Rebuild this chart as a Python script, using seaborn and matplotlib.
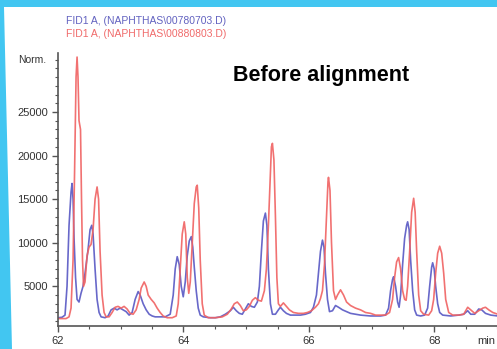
import matplotlib
matplotlib.use("Agg")
import numpy as np
import pandas as pd
import seaborn as sns
import matplotlib.pyplot as plt
from matplotlib.patches import Polygon
from matplotlib.ticker import MultipleLocator, FixedLocator

sns.set_theme(style="white")
plt.rcParams['font.family'] = ['Liberation Sans', 'DejaVu Sans']

# ---------------- data (retention time in min, normalised signal) ----------------
blue_time = [
    62.000, 62.064, 62.112, 62.144, 62.176, 62.208, 62.224, 62.240, 62.256, 62.280,
    62.304, 62.335, 62.367, 62.399, 62.431, 62.479, 62.511, 62.538, 62.559, 62.591,
    62.623, 62.655, 62.687, 62.751, 62.799, 62.847, 62.895, 62.942, 62.990, 63.038,
    63.086, 63.134, 63.182, 63.230, 63.278, 63.310, 63.358, 63.406, 63.454, 63.502,
    63.549, 63.629, 63.709, 63.789, 63.837, 63.869, 63.901, 63.933, 63.965, 63.997,
    64.029, 64.061, 64.093, 64.125, 64.149, 64.173, 64.204, 64.236, 64.268, 64.316,
    64.428, 64.508, 64.588, 64.668, 64.748, 64.795, 64.843, 64.891, 64.939, 64.987,
    65.035, 65.083, 65.131, 65.179, 65.211, 65.243, 65.275, 65.307, 65.331, 65.355,
    65.387, 65.419, 65.467, 65.514, 65.546, 65.594, 65.642, 65.706, 65.786, 65.866,
    65.946, 66.025, 66.073, 66.121, 66.153, 66.185, 66.217, 66.241, 66.265, 66.297,
    66.329, 66.377, 66.425, 66.473, 66.537, 66.601, 66.664, 66.744, 66.824, 66.984,
    67.144, 67.223, 67.271, 67.303, 67.335, 67.351, 67.383, 67.415, 67.439, 67.463,
    67.495, 67.527, 67.559, 67.575, 67.599, 67.623, 67.655, 67.687, 67.719, 67.783,
    67.846, 67.894, 67.926, 67.958, 67.974, 67.998, 68.022, 68.054, 68.086, 68.134,
    68.262, 68.390, 68.469, 68.533, 68.581, 68.645, 68.709, 68.757, 68.816, 68.901,
    69.013,
]
blue_signal = [
    1400, 1450, 1700, 5000, 12000, 15800, 16800, 15000, 10500, 6000,
    3500, 3200, 4200, 5000, 6500, 9200, 11500, 12000, 11000, 7000,
    3500, 2000, 1500, 1400, 1600, 2300, 2500, 2300, 2500, 2300,
    2100, 1700, 2000, 3500, 4400, 4000, 3000, 2300, 1800, 1600,
    1500, 1500, 1500, 1800, 4000, 7000, 8400, 7500, 5000, 3800,
    5500, 8500, 10200, 10700, 9500, 7200, 4500, 2500, 1700, 1500,
    1400, 1400, 1500, 1800, 2200, 2600, 2200, 1900, 1800, 2400,
    3000, 2700, 2600, 3200, 5000, 9000, 12500, 13400, 12000, 7000,
    3000, 1800, 1800, 2300, 2600, 2200, 1900, 1700, 1700, 1700,
    1800, 2000, 2600, 4000, 6500, 9000, 10300, 9500, 6500, 3500,
    2100, 2200, 2800, 2600, 2300, 2100, 1900, 1800, 1700, 1600,
    1600, 1700, 2500, 4500, 5800, 6100, 5000, 3200, 2600, 4000,
    7500, 10500, 12000, 12400, 11500, 8000, 4500, 2300, 1700, 1600,
    1700, 2500, 5000, 7200, 7700, 7000, 5000, 3000, 2000, 1700,
    1600, 1700, 1800, 2200, 1800, 1800, 2400, 2300, 1900, 1700,
    1600,
]
red_time = [
    62.000, 62.128, 62.176, 62.208, 62.240, 62.264, 62.288, 62.304, 62.319, 62.335,
    62.359, 62.375, 62.391, 62.407, 62.431, 62.463, 62.495, 62.527, 62.559, 62.591,
    62.623, 62.647, 62.671, 62.703, 62.735, 62.767, 62.815, 62.863, 62.911, 62.958,
    63.006, 63.054, 63.102, 63.150, 63.198, 63.246, 63.294, 63.326, 63.374, 63.406,
    63.438, 63.486, 63.534, 63.581, 63.629, 63.677, 63.741, 63.821, 63.885, 63.917,
    63.949, 63.981, 64.013, 64.037, 64.061, 64.085, 64.109, 64.141, 64.173, 64.204,
    64.220, 64.244, 64.268, 64.300, 64.332, 64.396, 64.508, 64.620, 64.700, 64.763,
    64.811, 64.859, 64.907, 64.955, 65.003, 65.051, 65.099, 65.147, 65.195, 65.243,
    65.291, 65.323, 65.355, 65.387, 65.403, 65.419, 65.443, 65.467, 65.490, 65.514,
    65.546, 65.594, 65.642, 65.690, 65.754, 65.834, 65.914, 65.977, 66.041, 66.105,
    66.153, 66.185, 66.217, 66.249, 66.281, 66.305, 66.313, 66.337, 66.361, 66.393,
    66.425, 66.457, 66.505, 66.553, 66.601, 66.664, 66.744, 66.824, 66.904, 66.984,
    67.064, 67.144, 67.223, 67.287, 67.335, 67.367, 67.399, 67.431, 67.463, 67.495,
    67.527, 67.551, 67.575, 67.607, 67.639, 67.671, 67.695, 67.719, 67.751, 67.783,
    67.831, 67.910, 67.958, 67.990, 68.022, 68.054, 68.086, 68.118, 68.150, 68.182,
    68.230, 68.294, 68.390, 68.469, 68.533, 68.581, 68.645, 68.709, 68.773, 68.816,
    68.869, 68.933, 69.013,
]
red_signal = [
    1300, 1300, 1500, 2500, 8000, 18000, 29000, 31300, 29000, 24000,
    23000, 15000, 8000, 5000, 5500, 8500, 9500, 9800, 11500, 15000,
    16400, 15000, 9000, 4000, 2000, 1500, 1500, 2000, 2600, 2700,
    2500, 2700, 2400, 1900, 1800, 2300, 3500, 4800, 5500, 5000,
    4000, 3500, 3100, 2500, 2000, 1600, 1400, 1400, 1600, 3000,
    7000, 11000, 12400, 11000, 6000, 4200, 5500, 10000, 14500, 16400,
    16600, 14000, 8000, 3000, 1700, 1400, 1400, 1500, 1800, 2400,
    3000, 3200, 2800, 2200, 2300, 2700, 3400, 3700, 3400, 3300,
    4500, 7000, 12000, 18000, 21000, 21400, 19500, 13000, 6000, 3000,
    2700, 3100, 2700, 2300, 2000, 1900, 1900, 2000, 2200, 2600,
    3000, 3600, 4500, 7500, 13000, 17000, 17500, 16000, 10000, 4500,
    3500, 4000, 4600, 4000, 3200, 2800, 2500, 2300, 2000, 1900,
    1700, 1700, 1700, 2000, 3500, 6000, 7800, 8300, 7000, 4500,
    3500, 3400, 5000, 9000, 13500, 15100, 13500, 9000, 4000, 2200,
    1800, 1700, 2200, 3500, 6500, 8800, 9600, 8800, 6500, 3500,
    2000, 1700, 1700, 1800, 2600, 2300, 1900, 2200, 2500, 2600,
    2300, 2000, 1800,
]
run_labels = ["FID1 A, (NAPHTHAS\\00780703.D)", "FID1 A, (NAPHTHAS\\00880803.D)"]
x_ticks = [62, 64, 66, 68]
y_ticks = [5000, 10000, 15000, 20000, 25000]
title_text = "Before alignment"
y_unit = "Norm."
x_unit = "min"

assert len(blue_time) == len(blue_signal)
assert len(red_time) == len(red_signal)

df = pd.concat([
    pd.DataFrame({"time": blue_time, "signal": blue_signal, "run": run_labels[0]}),
    pd.DataFrame({"time": red_time, "signal": red_signal, "run": run_labels[1]}),
], ignore_index=True)

# ---------------- figure ----------------
W, H = 497, 349
BLUE = "#5858c4"
RED = "#f06262"
fig = plt.figure(figsize=(W / 100, H / 100), dpi=100)
fig.patch.set_facecolor("#42c6f1")
panel = Polygon([(4 / W, 1 - 7 / H), (12 / W, 0), (1, 0), (1, 1 - 7 / H)],
                closed=True, transform=fig.transFigure,
                facecolor="white", edgecolor="none", zorder=-5)
fig.patches.append(panel)

ax = fig.add_axes([58 / W, 23 / H, 1 - 58 / W, 273.3 / H])
ax.set_zorder(2)
ax.set_facecolor("white")

sns.lineplot(data=df, x="time", y="signal", hue="run",
             palette={run_labels[0]: BLUE, run_labels[1]: RED},
             sort=False, estimator=None, legend=False, ax=ax,
             linewidth=1.2, alpha=0.9)

ax.set_xlim(62, 69.0)
ax.set_ylim(450, 31800)
ax.set_xlabel("")
ax.set_ylabel("")

for s in ["top", "right"]:
    ax.spines[s].set_visible(False)
for s in ["left", "bottom"]:
    ax.spines[s].set_visible(True)
    ax.spines[s].set_color("#555555")
    ax.spines[s].set_linewidth(1.2)

ax.set_xticks(x_ticks, labels=[str(v) for v in x_ticks])
ax.set_yticks(y_ticks, labels=[str(v) for v in y_ticks])
ax.xaxis.set_minor_locator(MultipleLocator(0.5))
ax.yaxis.set_minor_locator(MultipleLocator(1000))
ax.tick_params(which="both", bottom=True, left=True, direction="out", color="#555555")
ax.tick_params(which="major", length=4, width=1, labelsize=8, labelcolor="#333333", pad=3)
ax.tick_params(which="minor", length=2.5, width=0.8)

fig.text(46 / W, 1 - 60 / H, y_unit, ha="right", va="center", fontsize=7.5, color="#333333")
fig.text(1 - 2 / W, 1 - 341 / H, x_unit, ha="right", va="center", fontsize=8, color="#333333")

fig.text(66 / W, 1 - 21 / H, run_labels[0], ha="left", va="center", fontsize=7.5, color="#6262c0")
fig.text(66 / W, 1 - 34 / H, run_labels[1], ha="left", va="center", fontsize=7.5, color="#f06a6a")

fig.text(233 / W, 1 - 75 / H, title_text, ha="left", va="center",
         fontsize=15.5, fontweight="bold", color="black")

fig.savefig("out.png", dpi=100)
